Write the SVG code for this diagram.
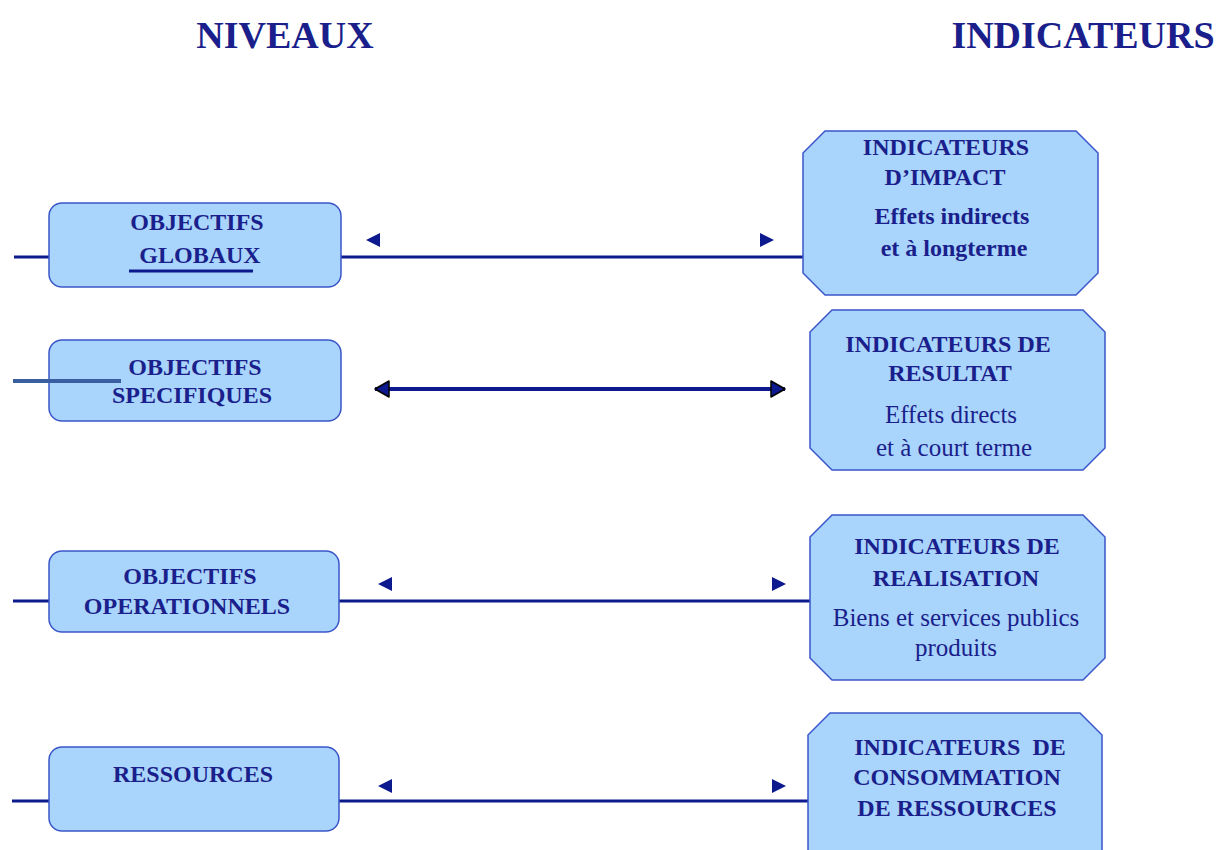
<svg xmlns="http://www.w3.org/2000/svg" width="1219" height="850" viewBox="0 0 1219 850">
<defs>
<style>
.box{fill:#a9d4fb;stroke:#3a56c8;stroke-width:1.5}
.ln{stroke:#0d1a8e;stroke-width:3;fill:none}
.tri{fill:#0d1a8e}
text{font-family:"Liberation Serif","Times New Roman",serif;fill:#1a1f8c;text-anchor:middle}
.t{font-size:24px;font-weight:bold}
.h{font-size:38px;font-weight:bold}
.r{font-size:25px}
</style>
<marker id="dh" viewBox="0 0 16 18" refX="15" refY="9" markerWidth="16" markerHeight="18" markerUnits="userSpaceOnUse" orient="auto-start-reverse">
<path d="M1,1 L15,9 L1,17 Z" fill="#0d1a8e" stroke="#000" stroke-width="1.5" stroke-linejoin="round"/>
</marker>
</defs>
<rect width="1219" height="850" fill="#fff"/>
<text class="h" x="285" y="48">NIVEAUX</text>
<text class="h" x="1083" y="48">INDICATEURS</text>

<g id="connectors">
<line class="ln" x1="14" y1="257" x2="49" y2="257"/>
<line class="ln" x1="341" y1="257" x2="803" y2="257"/>
<path class="tri" d="M366,240 L380,233 L380,247 Z"/>
<path class="tri" d="M774,240 L760,233 L760,247 Z"/>
<line x1="375" y1="389" x2="785" y2="389" stroke="#0d1a8e" stroke-width="4" marker-start="url(#dh)" marker-end="url(#dh)"/>
<line class="ln" x1="13" y1="601" x2="49" y2="601"/>
<line class="ln" x1="339" y1="601" x2="810" y2="601"/>
<path class="tri" d="M378,584 L392,577 L392,591 Z"/>
<path class="tri" d="M786,584 L772,577 L772,591 Z"/>
<line class="ln" x1="12" y1="801" x2="49" y2="801"/>
<line class="ln" x1="339" y1="801" x2="808" y2="801"/>
<path class="tri" d="M378,786 L392,779 L392,793 Z"/>
<path class="tri" d="M786,786 L772,779 L772,793 Z"/>
</g>

<g id="obj-globaux">
<rect class="box" x="49" y="203" width="292" height="84" rx="13"/>
<text class="t" x="197" y="230">OBJECTIFS</text>
<text class="t" x="200" y="263">GLOBAUX</text>
<line x1="129" y1="271" x2="253" y2="271" stroke="#0d1a8e" stroke-width="3"/>
</g>
<g id="obj-specifiques">
<rect class="box" x="49" y="340" width="292" height="81" rx="13"/>
<text class="t" x="195" y="375">OBJECTIFS</text>
<text class="t" x="192" y="403">SPECIFIQUES</text>
</g>
<line x1="13" y1="381" x2="121" y2="381" stroke="#3a5fa0" stroke-width="4"/>
<g id="obj-operationnels">
<rect class="box" x="49" y="551" width="290" height="81" rx="13"/>
<text class="t" x="190" y="584">OBJECTIFS</text>
<text class="t" x="187" y="614">OPERATIONNELS</text>
</g>
<g id="ressources">
<rect class="box" x="49" y="747" width="290" height="84" rx="13"/>
<text class="t" x="193" y="782">RESSOURCES</text>
</g>

<g id="ind-impact">
<path class="box" d="M825,131 L1076,131 L1098,153 L1098,273 L1076,295 L825,295 L803,273 L803,153 Z"/>
<text class="t" x="946" y="155">INDICATEURS</text>
<text class="t" x="945" y="185">D’IMPACT</text>
<text class="t" x="952" y="224">Effets indirects</text>
<text class="t" x="954" y="256">et à longterme</text>
</g>
<g id="ind-resultat">
<path class="box" d="M832,310 L1083,310 L1105,332 L1105,448 L1083,470 L832,470 L810,448 L810,332 Z"/>
<text class="t" x="948" y="352">INDICATEURS DE</text>
<text class="t" x="950" y="381">RESULTAT</text>
<text class="r" x="951" y="423">Effets directs</text>
<text class="r" x="954" y="456">et à court terme</text>
</g>
<g id="ind-realisation">
<path class="box" d="M832,515 L1083,515 L1105,537 L1105,658 L1083,680 L832,680 L810,658 L810,537 Z"/>
<text class="t" x="957" y="554">INDICATEURS DE</text>
<text class="t" x="956" y="586">REALISATION</text>
<text class="r" x="956" y="626">Biens et services publics</text>
<text class="r" x="956" y="656">produits</text>
</g>
<g id="ind-consommation">
<path class="box" d="M830,713 L1080,713 L1102,735 L1102,852 L808,852 L808,735 Z"/>
<text class="t" x="960" y="755" xml:space="preserve">INDICATEURS  DE</text>
<text class="t" x="957" y="785">CONSOMMATION</text>
<text class="t" x="957" y="816">DE RESSOURCES</text>
</g>
</svg>
